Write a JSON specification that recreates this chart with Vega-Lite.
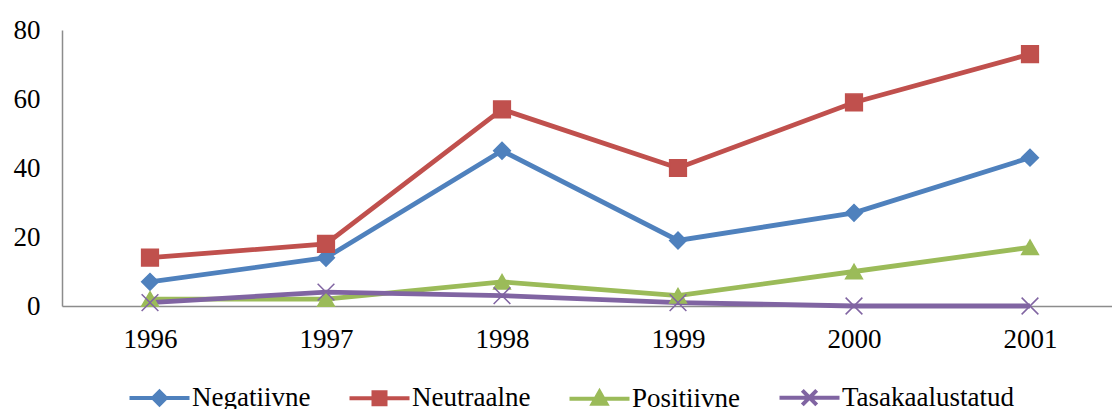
{
  "$schema": "https://vega.github.io/schema/vega-lite/v6.json",
  "autosize": {"type": "none"},
  "padding": {"left": 62, "top": 30, "right": 0, "bottom": 103},
  "width": 1056,
  "height": 276,
  "background": "white",
  "config": {
    "view": {"stroke": null},
    "font": "Liberation Serif"
  },
  "data": {
    "values": [
      {"year": "1996", "series": "Negatiivne", "value": 7},
      {"year": "1997", "series": "Negatiivne", "value": 14},
      {"year": "1998", "series": "Negatiivne", "value": 45},
      {"year": "1999", "series": "Negatiivne", "value": 19},
      {"year": "2000", "series": "Negatiivne", "value": 27},
      {"year": "2001", "series": "Negatiivne", "value": 43},
      {"year": "1996", "series": "Neutraalne", "value": 14},
      {"year": "1997", "series": "Neutraalne", "value": 18},
      {"year": "1998", "series": "Neutraalne", "value": 57},
      {"year": "1999", "series": "Neutraalne", "value": 40},
      {"year": "2000", "series": "Neutraalne", "value": 59},
      {"year": "2001", "series": "Neutraalne", "value": 73},
      {"year": "1996", "series": "Positiivne", "value": 2},
      {"year": "1997", "series": "Positiivne", "value": 2},
      {"year": "1998", "series": "Positiivne", "value": 7},
      {"year": "1999", "series": "Positiivne", "value": 3},
      {"year": "2000", "series": "Positiivne", "value": 10},
      {"year": "2001", "series": "Positiivne", "value": 17},
      {"year": "1996", "series": "Tasakaalustatud", "value": 1},
      {"year": "1997", "series": "Tasakaalustatud", "value": 4},
      {"year": "1998", "series": "Tasakaalustatud", "value": 3},
      {"year": "1999", "series": "Tasakaalustatud", "value": 1},
      {"year": "2000", "series": "Tasakaalustatud", "value": 0},
      {"year": "2001", "series": "Tasakaalustatud", "value": 0}
    ]
  },
  "encoding": {
    "x": {"field": "year", "type": "ordinal", "scale": {"paddingInner": 0, "paddingOuter": 0, "align": 0.5}, "axis": {"title": null, "labelAngle": 0, "labelPadding": 20, "labelFont": "Liberation Serif", "labelFontSize": 27, "labelColor": "black", "domainColor": "#8c8c8c", "domainWidth": 1.5, "ticks": false, "grid": false}},
    "y": {"field": "value", "type": "quantitative", "scale": {"domain": [0, 80], "nice": false}, "axis": {"title": null, "values": [0, 20, 40, 60, 80], "labelPadding": 22, "labelFont": "Liberation Serif", "labelFontSize": 27, "labelColor": "black", "domainColor": "#8c8c8c", "domainWidth": 1.5, "ticks": false, "grid": false}}
  },
  "layer": [
    {
      "mark": {"type": "line", "strokeWidth": 4.8},
      "encoding": {
        "color": {"field": "series", "type": "nominal", "scale": {"domain": ["Negatiivne", "Neutraalne", "Positiivne", "Tasakaalustatud"], "range": ["#4F81BD", "#C0504D", "#9BBB59", "#8064A2"]}, "legend": null}
      }
    },
    {
      "mark": {"type": "point", "filled": true, "opacity": 1, "strokeWidth": 1.5},
      "encoding": {
        "color": {"field": "series", "type": "nominal", "scale": {"domain": ["Negatiivne", "Neutraalne", "Positiivne", "Tasakaalustatud"], "range": ["#4F81BD", "#C0504D", "#9BBB59", "#8064A2"]}, "legend": null},
        "stroke": {"field": "series", "type": "nominal", "scale": {"domain": ["Negatiivne", "Neutraalne", "Positiivne", "Tasakaalustatud"], "range": ["#4F81BD", "#C0504D", "#9BBB59", "#8064A2"]}, "legend": null},
        "shape": {"field": "series", "type": "nominal", "scale": {"domain": ["Negatiivne", "Neutraalne", "Positiivne", "Tasakaalustatud"], "range": ["diamond", "square", "triangle-up", "M-1,-1L1,1M-1,1L1,-1"]}, "legend": null},
        "size": {"value": 280}
      }
    },
    {
      "transform": [{"filter": "false"}],
      "mark": {"type": "point", "filled": true, "opacity": 1},
      "encoding": {
        "color": {"field": "series", "type": "nominal", "scale": {"domain": ["Negatiivne", "Neutraalne", "Positiivne", "Tasakaalustatud"], "range": ["#4F81BD", "#C0504D", "#9BBB59", "#8064A2"]}, "legend": {"title": null}},
        "stroke": {"field": "series", "type": "nominal", "scale": {"domain": ["Negatiivne", "Neutraalne", "Positiivne", "Tasakaalustatud"], "range": ["#4F81BD", "#C0504D", "#9BBB59", "#8064A2"]}, "legend": {"title": null}},
        "shape": {"field": "series", "type": "nominal", "scale": {"domain": ["Negatiivne", "Neutraalne", "Positiivne", "Tasakaalustatud"], "range": ["M-3.75,0H3.75M0,-0.8L0.8,0L0,0.8L-0.8,0Z", "M-3.75,0H3.75M-0.75,-0.75H0.75V0.75H-0.75Z", "M-3.75,0H3.75M0,-0.85L0.85,0.65H-0.85Z", "M-3.75,0H3.75M-0.9,-0.9L0.9,0.9M-0.9,0.9L0.9,-0.9"]}, "legend": {
          "title": null, "orient": "none", "direction": "horizontal", "legendX": 84, "legendY": 354,
          "labelFont": "Liberation Serif", "labelFontSize": 27, "labelColor": "black", "labelOffset": 19, "labelLimit": 400,
          "symbolSize": 256, "symbolStrokeWidth": 4, "columnPadding": 30
        }}
      }
    }
  ],
  "resolve": {"scale": {"color": "independent", "shape": "independent", "stroke": "independent"}}
}
